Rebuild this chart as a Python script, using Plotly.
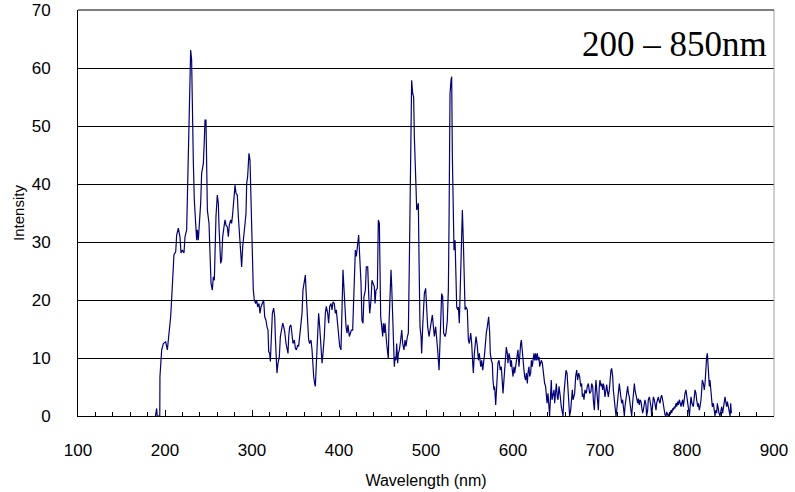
import plotly.graph_objects as go

# ---- data ----
wl_uv = [189, 190.4, 191, 194, 194.2, 196.2, 198.1, 200.8, 202.7, 204.6, 206.5, 207.7, 209.6, 210.3, 212.3,
         213.4, 215.3, 217.2, 218.4, 219.9, 221.8, 223.0, 224.9, 225.7, 226.8, 228.0, 229.5, 230.6, 231.4,
         232.6, 233.7, 235.2, 236.4, 237.2, 238.3, 239.5, 241.0, 242.1, 244.1, 245.2, 246.0, 247.1, 247.9,
         248.7, 250.6, 251.7, 252.9, 254.4, 255.5, 256.7, 257.5, 258.6, 260.1, 261.3, 262.1, 263.2, 264.0,
         265.1, 266.3, 267.8, 269.0, 270.1, 271.6, 272.8, 273.9, 275.5, 276.6, 277.8, 279.3, 280.5, 281.6,
         283.1, 284.3, 285.4, 287.0, 288.1, 289.3, 290.8, 292.0, 293.1, 293.9, 295.0, 296.5, 297.7, 298.5,
         299.6, 300.4, 301.5, 302.7, 304.2, 305.4, 306.5, 308.0, 309.2, 310.3]
int_uv = [0, 1.3, 0, 0, 6.8, 11.4, 12.5, 12.8, 11.4, 14.0, 17.1, 20.3, 24.6, 27.8, 28.3,
          31.2, 32.4, 30.9, 28.1, 28.6, 28.1, 30.9, 32.1, 38.1, 45.0, 56.8, 63.1, 61.4, 50.5,
          43.6, 37.2, 32.1, 30.3, 32.1, 30.3, 33.2, 36.7, 41.8, 43.6, 47.6, 51.0, 51.0, 44.7,
          35.5, 33.2, 25.7, 22.9, 21.7, 24.0, 23.4, 28.1, 34.4, 38.1, 36.7, 32.6, 29.2, 26.3,
          26.9, 30.9, 32.6, 33.8, 32.9, 32.6, 30.9, 32.9, 33.8, 33.2, 34.9, 37.8, 39.8, 38.4,
          38.1, 34.4, 32.1, 28.6, 25.7, 29.2, 30.9, 33.2, 34.9, 40.1, 41.3, 45.3, 44.1, 38.4,
          36.7, 30.3, 21.7, 20.0, 19.4, 20.0, 18.8, 19.4, 17.7, 18.8]

wl_mid = [313.4, 314.6, 316.1, 317.2, 318.4, 319.2, 320.3, 321.1, 322.2, 323.4, 324.9, 326.1, 326.8, 328.0,
          328.7, 329.9, 331.4, 332.6, 333.7, 335.3, 336.4, 337.6, 339.1, 340.2, 341.4, 342.2, 343.3, 344.8,
          346.0, 347.1, 348.7, 349.8, 351.0, 352.5, 353.6, 354.8, 356.3, 357.5, 358.6, 360.2, 361.3, 362.1,
          363.2, 364.4, 365.1, 366.3, 367.8, 369.0, 369.7, 370.9, 372.0, 372.8, 374.0, 375.5, 376.6, 377.8,
          379.3, 380.5, 381.6, 383.1, 384.3, 385.4, 387.0, 388.1, 389.3, 390.8, 392.0, 393.1, 394.6, 395.8,
          396.9, 398.5, 399.6, 400.8, 402.3, 403.5, 404.6, 405.4, 406.5, 408.1, 409.2, 410.3, 411.9, 413.0,
          414.2, 415.7, 416.9, 418.0, 418.8, 419.9, 421.5, 422.6, 423.8, 425.3, 426.4, 427.6, 428.7, 430.3,
          431.4, 433.0, 434.1, 435.3, 436.8, 437.9, 439.1, 440.6]
int_mid = [20.0, 17.1, 16.5, 15.4, 14.8, 11.1, 10.8, 9.4, 13.7, 17.7, 18.6, 17.1, 13.7, 9.6,
           7.4, 9.1, 10.2, 13.7, 14.8, 16.0, 15.4, 14.5, 12.5, 11.4, 10.8, 13.7, 15.4, 15.7,
           14.3, 12.5, 13.1, 11.7, 11.4, 12.2, 12.0, 13.7, 14.8, 17.7, 21.7, 22.9, 24.3, 21.7,
           18.3, 15.4, 13.1, 12.5, 13.1, 11.4, 9.1, 6.8, 5.6, 5.1, 9.1, 13.7, 17.7, 15.4,
           11.4, 9.1, 10.8, 13.7, 17.7, 18.9, 17.7, 16.0, 18.9, 19.4, 18.3, 19.7, 19.4, 17.7,
           18.3, 16.0, 13.7, 12.0, 11.4, 21.7, 25.2, 22.9, 18.9, 15.4, 14.3, 15.7, 13.7, 14.5,
           14.8, 14.8, 19.4, 24.0, 28.6, 27.5, 30.3, 31.2, 27.5, 22.9, 16.5, 16.0, 20.6, 21.7,
           25.7, 25.7, 21.1, 17.7, 20.0, 23.4, 22.9, 22.3]

wl_vis = [441.4, 442.5, 444.1, 445.2, 446.4, 447.1, 447.9, 449.1, 450.2, 451.0, 452.1, 452.9, 454.0, 454.8,
          456.0, 456.7, 457.5, 458.6, 459.8, 460.6, 461.7, 462.5, 463.6, 464.4, 465.5, 466.3, 467.5, 468.2,
          469.4, 470.9, 472.1, 473.2, 474.7, 475.9, 477.0, 478.6, 479.7, 480.9, 481.6, 482.8, 483.5, 484.7,
          485.8, 486.6, 487.4, 488.5, 489.3, 490.4, 491.2, 492.0, 493.1, 494.3, 495.0, 496.2, 497.0, 498.1,
          499.6, 500.8, 501.9, 503.5, 504.6, 505.8, 507.3, 508.5, 509.6, 511.1, 512.3, 513.4, 515.0, 516.1,
          517.3, 518.0, 519.2, 520.3, 521.9, 523.0, 524.5, 525.7, 526.5, 527.6, 528.8, 529.5, 530.3, 531.1,
          532.2, 533.4, 534.1, 535.3, 536.4, 537.2, 538.3, 539.9, 541.0, 541.8, 542.9, 543.7, 544.9, 546.0,
          547.5, 548.7, 549.8, 551.4, 552.5, 553.7, 554.4, 555.6, 556.3, 557.5, 559.0, 560.2, 561.3, 562.9,
          564.0, 565.2]
int_vis = [19.4, 21.7, 22.0, 33.8, 33.2, 25.7, 17.1, 15.4, 13.7, 16.0, 14.3, 16.0, 12.5, 12.5,
           10.8, 9.9, 16.0, 21.7, 25.2, 22.3, 16.0, 11.4, 8.5, 10.2, 9.6, 12.5, 9.1, 10.8,
           11.4, 13.1, 14.8, 12.5, 11.4, 13.1, 12.0, 13.7, 14.3, 26.9, 36.7, 49.9, 57.9, 55.6,
           55.0, 48.2, 42.4, 39.5, 35.5, 36.7, 36.7, 26.9, 15.4, 13.7, 10.8, 15.4, 19.4, 21.1,
           22.0, 18.8, 15.4, 13.7, 15.4, 16.0, 17.4, 14.8, 13.7, 15.4, 13.7, 11.4, 7.9, 12.5,
           17.7, 21.1, 20.6, 14.3, 13.7, 14.3, 16.5, 21.7, 33.8, 55.6, 57.9, 58.5, 44.7, 33.8,
           28.6, 30.3, 22.9, 18.8, 18.3, 18.8, 16.0, 23.4, 31.5, 35.5, 30.3, 22.3, 18.3, 18.8,
           18.3, 13.1, 12.5, 14.3, 12.5, 9.1, 7.4, 10.8, 12.0, 13.7, 12.0, 9.6, 10.8, 8.5,
           9.6, 7.9]

wl_red = [567.4, 568.6, 569.3, 570.5, 571.2, 572.0, 573.2, 573.9, 575.1, 576.2, 577.0, 578.1, 578.9, 580.1,
          580.8, 582.0, 582.7, 583.9, 584.7, 585.4, 586.6, 587.7, 588.5, 589.6, 590.4, 591.6, 592.3, 593.5,
          594.2, 595.4, 596.2, 597.3, 598.1, 599.2, 600.0, 601.1, 601.9, 603.0, 603.8, 605.0, 605.7, 606.9,
          607.6, 608.8, 609.6, 610.7, 611.5, 612.6, 613.4, 614.5, 615.3, 616.5, 617.2, 618.4, 619.1, 620.3,
          621.1, 622.2, 623.0, 624.1, 624.9, 626.0, 626.8, 628.0, 628.7, 629.9, 630.6, 631.8, 632.5, 633.7,
          634.5, 635.6, 636.4, 637.5, 638.3, 639.1, 640.2, 641.4, 642.1, 643.3, 644.0, 644.8, 646.0, 647.1,
          647.9, 649.0, 649.8, 650.9, 651.7, 652.9, 653.6, 654.4, 655.5, 656.3, 657.5, 658.6, 659.8, 660.9,
          662.1, 663.2, 664.4, 665.1, 666.3, 667.0, 668.2, 669.0, 670.1, 670.9, 672.0, 673.2, 674.3, 675.5,
          676.6, 677.8, 678.9, 679.7, 680.4, 681.6, 682.7, 684.3, 685.4, 686.6, 688.1]
int_red = [10.8, 13.7, 14.3, 15.4, 16.0, 17.1, 14.3, 10.8, 9.6, 9.1, 6.2, 4.5, 5.1, 1.9,
           3.9, 6.8, 9.1, 9.6, 8.5, 7.9, 8.5, 6.2, 3.9, 6.2, 8.5, 9.6, 11.9, 10.8,
           9.1, 10.8, 10.2, 8.5, 9.6, 7.9, 6.8, 8.5, 7.4, 8.5, 9.6, 10.8, 11.4, 8.5,
           10.8, 12.5, 13.1, 10.8, 8.5, 7.9, 6.8, 6.2, 7.4, 5.6, 7.4, 8.5, 6.8, 7.4,
           9.6, 8.5, 9.6, 10.8, 9.6, 10.8, 9.6, 10.8, 9.6, 10.2, 8.5, 9.1, 9.6, 9.1,
           7.9, 6.2, 5.6, 5.1, 3.3, 2.2, 3.9, 1.0, 0.0, 3.9, 6.2, 2.8, 3.9, 4.5,
           2.2, 3.9, 5.6, 3.3, 2.8, 5.1, 4.5, 3.3, 1.6, 1.0, 0.0, 3.9, 6.8, 7.9,
           7.4, 4.5, 1.0, 0.0, 1.0, 3.3, 4.5, 2.8, 3.9, 3.9, 6.8, 7.9, 6.2, 7.4,
           6.8, 5.1, 5.6, 3.3, 3.9, 2.8, 4.5, 3.9, 5.1, 5.6, 3.9]

wl_nir = [689.6, 690.4, 691.6, 692.3, 693.5, 694.2, 695.4, 696.2, 697.3, 698.1, 699.2, 700.0, 701.1, 701.9,
          703.1, 703.8, 704.6, 705.7, 706.9, 707.7, 708.4, 709.6, 710.7, 711.5, 712.6, 713.4, 714.6, 715.3,
          716.5, 717.2, 718.4, 719.2, 720.3, 721.1, 722.2, 723.0, 724.1, 724.9, 726.0, 726.8, 728.0, 728.7,
          729.9, 730.6, 731.8, 732.6, 733.7, 734.5, 735.6, 736.4, 737.5, 738.3, 739.5, 740.2, 741.4, 742.1,
          743.3, 744.1, 745.2, 746.0, 747.1, 747.9, 749.0, 749.8, 751.0, 751.7, 752.9, 753.6, 754.8, 755.5,
          756.7, 757.5, 758.6, 759.4, 760.5, 761.3, 762.4, 763.2, 764.4, 765.1, 766.3, 767.0, 768.2, 769.0,
          770.1, 770.9, 772.0, 772.8, 773.9, 774.7, 775.9, 776.6, 777.8, 778.5, 779.7, 780.5, 781.6, 782.4,
          783.5, 784.3, 785.4, 786.2, 787.3, 788.1, 789.3, 790.0, 791.2, 791.9, 793.1, 793.9, 795.0, 795.8,
          796.9, 797.7, 798.8, 799.6, 800.8, 801.9, 802.7, 803.4, 804.6, 805.7, 807.3]
int_nir = [4.2, 5.6, 5.1, 2.8, 1.0, 3.3, 6.2, 4.5, 2.2, 1.0, 5.1, 6.2, 5.1, 5.6,
           4.5, 5.6, 5.1, 3.3, 4.5, 5.4, 4.5, 3.3, 4.5, 6.8, 7.9, 8.2, 6.8, 4.5,
           2.8, 1.6, 0.0, 1.0, 3.3, 5.1, 5.6, 4.5, 3.3, 2.2, 2.8, 1.6, 0.0, 1.6,
           3.3, 4.5, 5.1, 3.9, 3.3, 2.2, 0.7, 0.0, 2.2, 4.5, 5.6, 4.5, 3.3, 2.8,
           2.2, 3.0, 1.9, 2.8, 2.5, 1.6, 0.5, 1.0, 2.2, 2.8, 1.9, 0.0, 1.0, 2.8,
           3.3, 2.8, 1.6, 0.0, 2.2, 3.3, 2.8, 1.6, 1.0, 2.2, 2.8, 3.3, 2.5, 2.2,
           3.3, 3.6, 2.8, 1.9, 1.0, 0.2, 0.0, 0.7, 0.2, 0.0, 0.5, 0.2, 1.0, 0.5,
           1.3, 1.0, 1.6, 1.3, 2.2, 1.6, 2.5, 1.9, 2.8, 2.2, 1.6, 2.2, 2.8, 1.6,
           3.3, 3.9, 4.5, 3.3, 2.2, 1.0, 0.0, 1.6, 3.3, 2.2, 1.6]

wl_ir = [809.2, 810.3, 811.1, 812.3, 813.0, 814.2, 814.9, 816.1, 816.9, 817.6, 818.8, 819.9, 820.7, 821.8,
         822.6, 823.4, 824.1, 824.9, 825.7, 826.4, 827.2, 828.4, 829.1, 830.3, 831.1, 832.2, 833.0, 834.1,
         834.9, 836.0, 836.8, 837.9, 839.1, 839.9, 841.0, 842.2, 842.9, 843.7, 844.8, 845.6, 846.4, 847.5,
         848.7, 849.5, 850.2, 851.0]
int_ir = [4.5, 3.9, 2.8, 1.6, 2.2, 1.0, 1.6, 2.8, 4.5, 6.2, 5.6, 4.5, 5.6, 9.1,
          10.2, 10.8, 8.5, 5.6, 5.1, 6.2, 4.5, 2.8, 1.6, 2.2, 1.0, 0.0, 1.0, 0.5,
          2.2, 1.0, 0.5, 0.0, 0.7, 1.6, 0.5, 2.2, 2.8, 3.3, 2.2, 1.6, 2.5, 1.6,
          1.0, 0.0, 2.2, 0.5]

wavelength = wl_uv + wl_mid + wl_vis + wl_red + wl_nir + wl_ir
intensity = int_uv + int_mid + int_vis + int_red + int_nir + int_ir

x_ticks = [100, 200, 300, 400, 500, 600, 700, 800, 900]
y_ticks = [0, 10, 20, 30, 40, 50, 60, 70]
range_label = "200 – 850nm"

# ---- figure ----
fig = go.Figure()
fig.add_trace(go.Scatter(x=wavelength, y=intensity, mode="lines",
                         line=dict(color="#000080", width=1.2), showlegend=False))

axis_font = dict(family="Liberation Sans, Arial, sans-serif", size=17, color="black")

fig.update_layout(
    width=795, height=492,
    margin=dict(l=78, r=21, t=10, b=76),
    paper_bgcolor="white", plot_bgcolor="white",
    font=axis_font,
    xaxis=dict(range=[100, 900], tickvals=x_ticks, ticktext=[str(v) for v in x_ticks],
               automargin=False,
               showgrid=False, zeroline=False, showline=True, linecolor="black", linewidth=1,
               ticks="inside", ticklen=6, tickcolor="black",
               minor=dict(dtick=20, ticks="inside", ticklen=4, tickcolor="black"),
               ticklabelstandoff=19,
               title=dict(text="Wavelength (nm)", font=dict(size=16), standoff=15)),
    yaxis=dict(range=[0, 70], tickvals=y_ticks, ticktext=[str(v) for v in y_ticks],
               automargin=False,
               showgrid=True, gridcolor="black", gridwidth=1, zeroline=False,
               showline=True, linecolor="black", linewidth=1, ticks="",
               ticklabelstandoff=23,
               title=dict(text="Intensity", font=dict(size=15), standoff=3)),
    shapes=[dict(type="line", xref="paper", yref="paper", x0=1, x1=1, y0=0, y1=1,
                 line=dict(color="#a0a0a0", width=1)),
            dict(type="line", xref="paper", yref="paper", x0=0, x1=1, y0=1, y1=1,
                 line=dict(color="black", width=1))],
    annotations=[dict(text=range_label, xref="paper", yref="paper", x=0.993, y=0.914,
                      xanchor="right", yanchor="middle", showarrow=False,
                      font=dict(family="Liberation Serif, Times New Roman, serif", size=35, color="black"))],
)

# remove the default page margin so the figure sits at the window's top-left corner
fig.write_html("out.html", config={"displayModeBar": False},
               post_script="document.body.style.margin='0';")
